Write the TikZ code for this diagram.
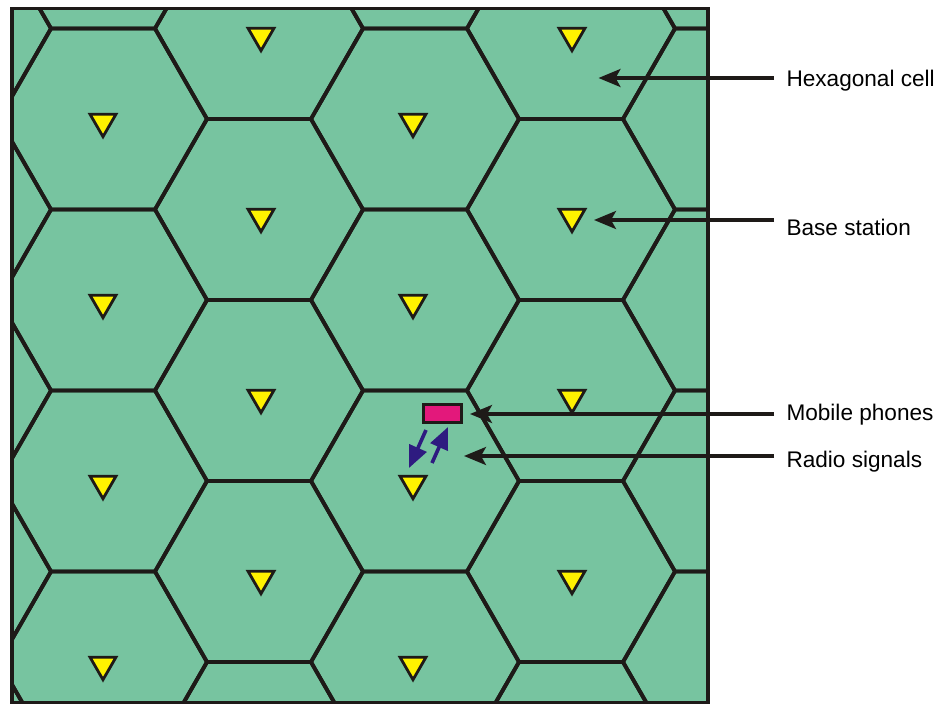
\documentclass[tikz,border=0pt]{standalone}
\usepackage{fontspec}
\setmainfont{Liberation Sans}
\usetikzlibrary{arrows.meta,shapes.geometric}
\definecolor{cellgreen}{RGB}{119,196,160}
\definecolor{edgeblack}{RGB}{30,26,24}
\definecolor{bsyellow}{RGB}{255,242,0}
\definecolor{phonemag}{RGB}{227,24,123}
\definecolor{radioblue}{RGB}{46,27,128}
\begin{document}
\begin{tikzpicture}[x=1pt,y=-1pt,
  hexedge/.style={draw=edgeblack, line width=3.8pt, line join=miter},
  bstation/.style={regular polygon, regular polygon sides=3, shape border rotate=180,
    draw=edgeblack, fill=bsyellow, line width=2.8pt, minimum size=30pt,
    inner sep=0pt, outer sep=0pt},
  phonebox/.style={draw=edgeblack, fill=phonemag, line width=2.8pt,
    minimum width=38pt, minimum height=18pt, inner sep=0pt},
  radioarrow/.style={draw=radioblue, line width=3.6pt,
    -{Triangle[length=22pt,width=18.5pt]}},
  labelarrow/.style={draw=edgeblack, line width=3.2pt,
    -{Stealth[length=22pt,width=18pt,inset=5pt]}},
  lbl/.style={anchor=west, inner sep=0pt, text height=16pt, text depth=0pt,
    font=\fontsize{22.6}{26}\selectfont, text=black}
]
\useasboundingbox (0,0) rectangle (940,704);

% cells
\begin{scope}
  \clip (12,8.5) rectangle (708,702.5);
  \fill[cellgreen] (12,8.5) rectangle (708,702.5);
  \foreach \c in {-1,...,5} {
    \foreach \r in {-1,...,4} {
      \pgfmathsetmacro{\hx}{103+156*\c}
      \pgfmathsetmacro{\hy}{119+181*\r-90.5*mod(abs(\c),2)}
      \draw[hexedge, shift={(\hx,\hy)}] (104,0) -- (52,90.5) -- (-52,90.5)
        -- (-104,0) -- (-52,-90.5) -- (52,-90.5) -- cycle;
    }
  }
\end{scope}

% base stations
\foreach \c/\tx in {0/103,1/261,2/413,3/572} {
  \foreach \r in {0,...,3} {
    \pgfmathsetmacro{\ty}{121.7+181*\r-86*mod(\c,2)}
    \node[bstation] (bs\c\r) at (\tx,\ty) {};
  }
}

% mobile phone
\node[phonebox] (phone) at (442.5,413.5) {};

% radio signals
\coordinate (r1s) at (426,430);
\coordinate (r1e) at (409,468);
\coordinate (r2s) at (432,463);
\coordinate (r2e) at (448,427);
\draw[radioarrow] (r1s) -- (r1e);
\draw[radioarrow] (r2s) -- (r2e);

% frame
\draw[edgeblack, line width=3.2pt] (12,8.5) rectangle (708,702.5);

% labels
\node[lbl] (lhex) at (786.3,78.5) {Hexagonal cell};
\node[lbl] (lbase) at (786.3,227) {Base station};
\node[lbl] (lmob) at (786.3,412) {Mobile phones};
\node[lbl] (lrad) at (786.3,459) {Radio signals};

\coordinate (thex) at (598.5,78);
\coordinate (tbase) at (594,220);
\coordinate (tmob) at (470,414);
\coordinate (trad) at (464,456);

\draw[labelarrow] ([shift={(-12.3,-0.5)}]lhex.west) -- (thex);
\draw[labelarrow] ([shift={(-12.3,-7)}]lbase.west) -- (tbase);
\draw[labelarrow] ([shift={(-12.3,2)}]lmob.west) -- (tmob);
\draw[labelarrow] ([shift={(-12.3,-3)}]lrad.west) -- (trad);
\end{tikzpicture}
\end{document}
